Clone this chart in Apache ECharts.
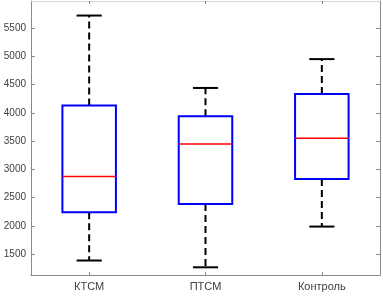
<!DOCTYPE html>
<html>
<head>
<meta charset="utf-8">
<script src="https://cdn.jsdelivr.net/npm/echarts@6/dist/echarts.min.js"></script>
<style>html,body{margin:0;padding:0;background:#fff}#c{width:383px;height:296px}</style>
</head>
<body>
<div id="c"></div>
<script>
var categories = ['КТСМ', 'ПТСМ', 'Контроль'];
var lowerWhisker = [1390, 1270, 1990];
var q1 = [2245, 2390, 2830];
var median = [2875, 3450, 3550];
var q3 = [4130, 3940, 4335];
var upperWhisker = [5720, 4440, 4950];
var yTicks = [1500, 2000, 2500, 3000, 3500, 4000, 4500, 5000, 5500];

var data = categories.map(function (c, i) {
  return [i, lowerWhisker[i], q1[i], median[i], q3[i], upperWhisker[i]];
});

var chart = echarts.init(document.getElementById('c'), null, {renderer: 'canvas'});
var axisColor = '#8a8a8a';
var textColor = '#404040';
var font = 'Liberation Sans, Arial, sans-serif';

function renderItem(params, api) {
  var idx = api.value(0);
  var pLow = api.coord([idx, api.value(1)]);
  var pQ1 = api.coord([idx, api.value(2)]);
  var pMed = api.coord([idx, api.value(3)]);
  var pQ3 = api.coord([idx, api.value(4)]);
  var pHigh = api.coord([idx, api.value(5)]);
  var band = api.size([1, 0])[0];
  var bw = band * 0.46;
  var cw = bw * 0.47;
  var x = pMed[0];
  var dash = {stroke: '#000', lineWidth: 2, lineDash: [7, 4]};
  var solid = {stroke: '#000', lineWidth: 2};
  return {
    type: 'group',
    children: [
      {type: 'line', shape: {x1: x, y1: pQ3[1], x2: x, y2: pHigh[1]}, style: dash},
      {type: 'line', shape: {x1: x, y1: pQ1[1], x2: x, y2: pLow[1]}, style: dash},
      {type: 'line', shape: {x1: x - cw / 2, y1: pHigh[1], x2: x + cw / 2, y2: pHigh[1]}, style: solid},
      {type: 'line', shape: {x1: x - cw / 2, y1: pLow[1], x2: x + cw / 2, y2: pLow[1]}, style: solid},
      {type: 'rect', shape: {x: x - bw / 2, y: pQ3[1], width: bw, height: pQ1[1] - pQ3[1]},
        style: {fill: 'none', stroke: '#0000ff', lineWidth: 2}},
      {type: 'line', shape: {x1: x - bw / 2, y1: pMed[1], x2: x + bw / 2, y2: pMed[1]},
        style: {stroke: '#ff0000', lineWidth: 1.5}}
    ]
  };
}

var yAxisCommon = {
  type: 'value', min: 1134, max: 5977,
  splitLine: {show: false},
  axisLine: {show: true, lineStyle: {color: axisColor, width: 1}},
  axisTick: {show: true, inside: true, length: 4, customValues: yTicks, lineStyle: {color: axisColor}}
};

chart.setOption({
  animation: false,
  backgroundColor: '#fff',
  grid: {left: 31, right: 3, top: 1, bottom: 21, containLabel: false},
  xAxis: [{
    type: 'category', data: categories, position: 'bottom',
    axisLine: {show: true, onZero: false, lineStyle: {color: axisColor}},
    axisTick: {show: true, inside: true, length: 3, alignWithLabel: true, lineStyle: {color: axisColor}},
    axisLabel: {color: textColor, fontSize: 11, fontFamily: font, margin: 6}
  }, {
    type: 'category', data: categories, position: 'top',
    axisLine: {show: true, onZero: false, lineStyle: {color: '#d8d8d8'}},
    axisTick: {show: true, inside: true, length: 3, alignWithLabel: true, lineStyle: {color: axisColor}},
    axisLabel: {show: false}
  }],
  yAxis: [
    Object.assign({}, yAxisCommon, {
      position: 'left',
      axisLabel: {show: true, customValues: yTicks, color: textColor, fontSize: 10, fontFamily: font, margin: 5,
        formatter: function (v) { return String(v); }}
    }),
    Object.assign({}, yAxisCommon, {
      position: 'right',
      axisLabel: {show: false}
    })
  ],
  series: [{
    type: 'custom',
    xAxisIndex: 0, yAxisIndex: 0,
    renderItem: renderItem,
    encode: {x: 0, y: [1, 2, 3, 4, 5]},
    data: data,
    clip: false
  }]
});
</script>
</body>
</html>
